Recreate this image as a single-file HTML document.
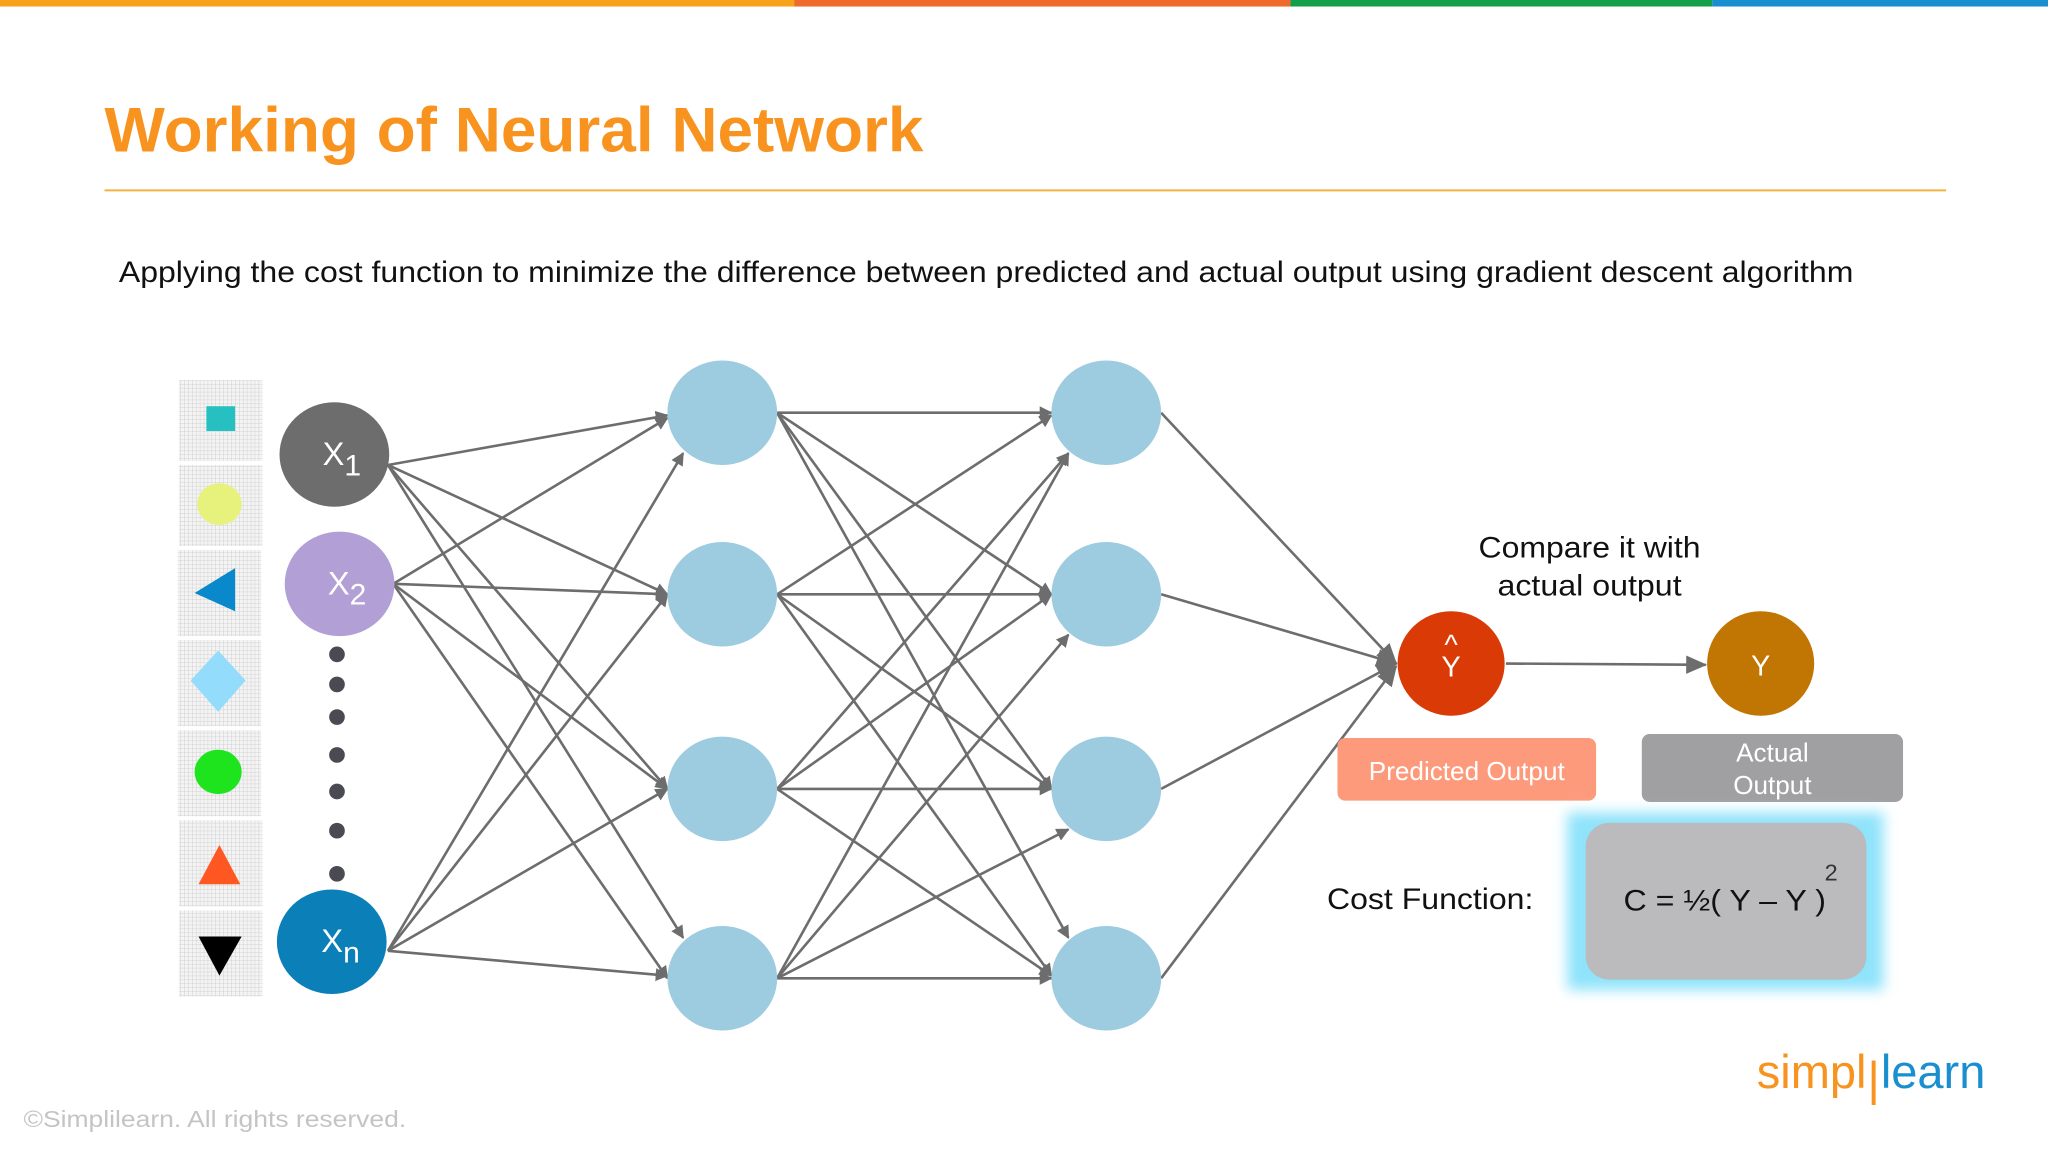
<!DOCTYPE html>
<html><head><meta charset="utf-8"><style>
html,body{margin:0;padding:0;background:#fff;}
svg{display:block;}
text{font-family:"Liberation Sans",Arial,sans-serif;}
</style></head><body>
<svg width="2048" height="1152" viewBox="0 0 1568 882" xmlns="http://www.w3.org/2000/svg">
<defs>
<marker id="a" markerWidth="10" markerHeight="10" refX="9" refY="5" orient="auto" markerUnits="userSpaceOnUse">
<path d="M0,0 L10,5 L0,10 z" fill="#6d6d6d"/></marker>
<marker id="b" markerWidth="16" markerHeight="16" refX="15" refY="8" orient="auto" markerUnits="userSpaceOnUse">
<path d="M0,1 L16,8 L0,15 z" fill="#6d6d6d"/></marker>
<pattern id="g" width="3" height="3" patternUnits="userSpaceOnUse">
<rect width="3" height="3" fill="#f4f4f4"/><path d="M0,0H3M0,0V3" stroke="#c8c8c8" stroke-width="0.6"/></pattern>
<filter id="bl" x="-20%" y="-20%" width="140%" height="140%"><feGaussianBlur stdDeviation="5"/></filter>
</defs>
<rect width="1568" height="882" fill="#fff"/>
<rect x="0" y="0" width="608" height="5" fill="#f7a21b"/>
<rect x="608" y="0" width="380" height="5" fill="#ef6b2b"/>
<rect x="988" y="0" width="323" height="5" fill="#13a04a"/>
<rect x="1311" y="0" width="257" height="5" fill="#1a8fd0"/>
<text x="80" y="116" font-size="48" font-weight="bold" fill="#f7931e" textLength="627" lengthAdjust="spacingAndGlyphs">Working of Neural Network</text>
<rect x="80" y="145" width="1410" height="1.5" fill="#f2b33d"/>
<text x="91" y="216" font-size="23" fill="#111" textLength="1328" lengthAdjust="spacingAndGlyphs">Applying the cost function to minimize the difference between predicted and actual output using gradient descent algorithm</text>

<g>
<rect x="137" y="291" width="64" height="62" fill="url(#g)"/>
<rect x="137" y="356" width="64" height="62" fill="url(#g)"/>
<rect x="136" y="421" width="64" height="66" fill="url(#g)"/>
<rect x="136" y="490" width="64" height="66" fill="url(#g)"/>
<rect x="136" y="559" width="64" height="66" fill="url(#g)"/>
<rect x="137" y="628" width="64" height="66" fill="url(#g)"/>
<rect x="137" y="697" width="64" height="66" fill="url(#g)"/>
<rect x="158" y="311" width="22" height="19" fill="#27c0c0"/>
<ellipse cx="168" cy="386" rx="17" ry="16" fill="#e6f27c"/>
<polygon points="149,454 180,435 180,468" fill="#0a88cc"/>
<polygon points="167,498 188,521 167,545 146,521" fill="#93dcfb"/>
<ellipse cx="167" cy="591" rx="18" ry="17" fill="#1ee41e"/>
<polygon points="168,647 184,677 152,677" fill="#ff5722"/>
<polygon points="152,717 185,717 168,747" fill="#000"/>
</g>

<g stroke="#6d6d6d" stroke-width="2" fill="none" marker-end="url(#a)">
<line x1="297" y1="356" x2="511" y2="318"/><line x1="297" y1="356" x2="511" y2="455"/><line x1="297" y1="356" x2="511" y2="604"/><line x1="297" y1="356" x2="523" y2="718"/>
<line x1="301" y1="447" x2="511" y2="320"/><line x1="301" y1="447" x2="511" y2="455"/><line x1="301" y1="447" x2="511" y2="604"/><line x1="301" y1="447" x2="511" y2="749"/>
<line x1="297" y1="728" x2="523" y2="347"/><line x1="297" y1="728" x2="511" y2="455"/><line x1="297" y1="728" x2="511" y2="604"/><line x1="297" y1="728" x2="511" y2="747"/>
<line x1="595" y1="316" x2="805" y2="316"/><line x1="595" y1="316" x2="805" y2="455"/><line x1="595" y1="316" x2="805" y2="604"/><line x1="595" y1="316" x2="818" y2="718"/>
<line x1="595" y1="455" x2="805" y2="318"/><line x1="595" y1="455" x2="805" y2="455"/><line x1="595" y1="455" x2="805" y2="604"/><line x1="595" y1="455" x2="805" y2="747"/>
<line x1="595" y1="604" x2="818" y2="347"/><line x1="595" y1="604" x2="805" y2="455"/><line x1="595" y1="604" x2="805" y2="604"/><line x1="595" y1="604" x2="805" y2="747"/>
<line x1="595" y1="749" x2="818" y2="347"/><line x1="595" y1="749" x2="818" y2="486"/><line x1="595" y1="749" x2="818" y2="635"/><line x1="595" y1="749" x2="805" y2="749"/>
</g>
<g stroke="#6d6d6d" stroke-width="2" fill="none" marker-end="url(#b)">
<line x1="889" y1="316" x2="1069" y2="508"/><line x1="889" y1="455" x2="1069" y2="508"/><line x1="889" y1="604" x2="1069" y2="508"/><line x1="889" y1="749" x2="1069" y2="510"/>
<line x1="1153" y1="508" x2="1306" y2="509"/>
</g>

<g fill="#9dcbdf">
<ellipse cx="553" cy="316" rx="42" ry="40"/><ellipse cx="553" cy="455" rx="42" ry="40"/><ellipse cx="553" cy="604" rx="42" ry="40"/><ellipse cx="553" cy="749" rx="42" ry="40"/>
<ellipse cx="847" cy="316" rx="42" ry="40"/><ellipse cx="847" cy="455" rx="42" ry="40"/><ellipse cx="847" cy="604" rx="42" ry="40"/><ellipse cx="847" cy="749" rx="42" ry="40"/>
</g>
<ellipse cx="256" cy="348" rx="42" ry="40" fill="#6d6d6d"/>
<ellipse cx="260" cy="447" rx="42" ry="40" fill="#b19fd6"/>
<ellipse cx="254" cy="721" rx="42" ry="40" fill="#0b7fb8"/>
<g fill="#fff" font-size="25"><text x="247" y="356">X<tspan font-size="23" dy="8">1</tspan></text>
<text x="251" y="455">X<tspan font-size="23" dy="8">2</tspan></text>
<text x="246" y="729">X<tspan font-size="23" dy="8">n</tspan></text></g>
<g fill="#4a4a52"><circle cx="258" cy="501" r="6"/><circle cx="258" cy="524" r="6"/><circle cx="258" cy="549" r="6"/><circle cx="258" cy="578" r="6"/><circle cx="258" cy="606" r="6"/><circle cx="258" cy="636" r="6"/><circle cx="258" cy="669" r="6"/></g>

<ellipse cx="1111" cy="508" rx="41" ry="40" fill="#da3a06"/>
<text x="1111" y="501" font-size="22" fill="#fff" text-anchor="middle">^</text>
<text x="1111" y="518" font-size="22" fill="#fff" text-anchor="middle">Y</text>
<ellipse cx="1348" cy="508" rx="41" ry="40" fill="#c17503"/>
<text x="1348" y="517" font-size="22" fill="#fff" text-anchor="middle">Y</text>
<text x="1217" y="427" font-size="23" fill="#111" text-anchor="middle" textLength="170" lengthAdjust="spacingAndGlyphs">Compare it with</text>
<text x="1217" y="456" font-size="23" fill="#111" text-anchor="middle" textLength="141" lengthAdjust="spacingAndGlyphs">actual output</text>

<rect x="1024" y="565" width="198" height="48" rx="6" fill="#fd9a7c"/>
<text x="1123" y="597" font-size="20" fill="#fff" text-anchor="middle">Predicted Output</text>
<rect x="1257" y="562" width="200" height="52" rx="6" fill="#a0a0a2"/>
<text x="1357" y="583" font-size="20" fill="#fff" text-anchor="middle">Actual</text>
<text x="1357" y="608" font-size="20" fill="#fff" text-anchor="middle">Output</text>

<rect x="1200" y="622" width="242" height="136" fill="#8fe3fb" filter="url(#bl)"/>
<rect x="1214" y="630" width="215" height="120" rx="18" fill="#bbbbbe"/>
<text x="1243" y="697" font-size="23" fill="#111" textLength="155" lengthAdjust="spacingAndGlyphs">C = ½( Y – Y )</text>
<text x="1397" y="674" font-size="18" fill="#333">2</text>
<text x="1016" y="696" font-size="23" fill="#111" textLength="158" lengthAdjust="spacingAndGlyphs">Cost Function:</text>

<text x="1345" y="833" font-size="36" fill="#f7931e">simpl</text>
<rect x="1433" y="812" width="3" height="34" fill="#f7931e"/>
<text x="1440" y="833" font-size="36" fill="#1a8fd0">learn</text>
<text x="18" y="863" font-size="18" fill="#c4c4c4" textLength="293" lengthAdjust="spacingAndGlyphs">©Simplilearn. All rights reserved.</text>
</svg>
</body></html>
